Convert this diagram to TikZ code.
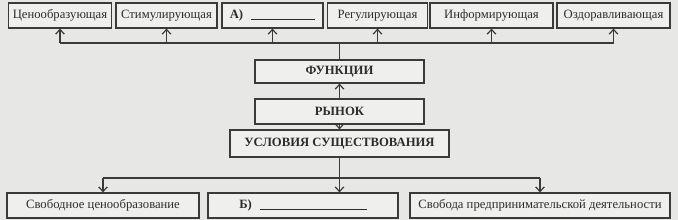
\documentclass[tikz,border=0pt]{standalone}
\usepackage{fontspec}
\setmainfont{Liberation Serif}
\usetikzlibrary{arrows.meta}
\definecolor{paper}{HTML}{E7E7E5}
\definecolor{boxbg}{HTML}{EFEFED}
\definecolor{ink}{HTML}{3A3A3A}
\definecolor{txt}{HTML}{2C2C2C}
\def\u{0.75pt}
\tikzset{
  fbox/.style={draw=ink,fill=boxbg,line width=0.9pt,text=txt,inner sep=1pt,
    minimum height=25*\u,font=\fontsize{9.5}{11}\selectfont},
  hbox/.style={fbox,font=\fontsize{9.5}{11}\selectfont\bfseries},
  bus/.style={ink,line width=0.9pt},
  arr/.style={bus,-{Straight Barb[length=3.5pt,width=6.5pt]}},
}
\newcommand{\blank}[1]{\rule[-1pt]{#1}{0.6pt}}

\begin{document}
\begin{tikzpicture}[x=\u,y=-\u]

% ---------------------------------------------------------------- paper
\fill[paper] (0,0) rectangle (678,220);
\useasboundingbox (0,0) rectangle (678,220);

% ---------------------------------------------------------------- functions (top row)
\node[fbox,minimum width=103*\u] (f1) at (60,15.5) {Ценообразующая};
\node[fbox,minimum width=101*\u] (f2) at (166.5,15.5) {Стимулирующая};
\node[fbox,minimum width=101*\u] (f3) at (272.5,15.5) {\textbf{А)}\hspace{6pt}\blank{48pt}};
\node[fbox,minimum width=100*\u] (f4) at (377.5,15.5) {Регулирующая};
\node[fbox,minimum width=123*\u] (f5) at (491.5,15.5) {Информирующая};
\node[fbox,minimum width=113*\u] (f6) at (613.5,15.5) {Оздоравливающая};

% ---------------------------------------------------------------- centre column
\node[hbox,minimum width=169*\u,minimum height=23*\u] (fun) at (339.5,71.5) {ФУНКЦИИ};
\node[hbox,minimum width=169*\u] (market) at (339.5,111.5) {РЫНОК};
\node[hbox,minimum width=219*\u,minimum height=27*\u] (cond) at (339.5,143.5) {УСЛОВИЯ СУЩЕСТВОВАНИЯ};

% ---------------------------------------------------------------- conditions (bottom row)
\node[fbox,minimum width=192*\u] (u1) at (103,205.5) {Свободное ценообразование};
\node[fbox,minimum width=190*\u] (u2) at (303,205.5) {\textbf{Б)}\hspace{6pt}\blank{80pt}};
\node[fbox,minimum width=260*\u] (u3) at (540,205.5) {Свобода предпринимательской деятельности};

% ---------------------------------------------------------------- upper bus
\coordinate (tbus) at (339.5,43);
\draw[bus] (fun.north) -- (tbus);
\draw[bus] (f1.south |- tbus) -- (f6.south |- tbus);
\foreach \n in {f1,f2,f3,f4,f5,f6}
  {\draw[arr] (\n.south |- tbus) -- (\n.south);}

% ---------------------------------------------------------------- market links
\draw[arr] (market) -- (fun);
\draw[arr] (market) -- (cond);

% ---------------------------------------------------------------- lower bus
\coordinate (bbus) at (339.5,178);
\draw[bus] (cond.south) -- (bbus);
\draw[bus] (u1.north |- bbus) -- (u3.north |- bbus);
\draw[arr] (u1.north |- bbus) -- (u1.north);
\draw[arr] (bbus) -- (bbus |- u2.north);
\draw[arr] (u3.north |- bbus) -- (u3.north);

\end{tikzpicture}
\end{document}
